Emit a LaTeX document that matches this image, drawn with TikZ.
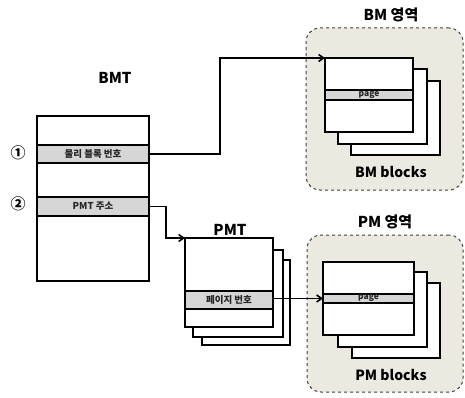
\documentclass[tikz,border=0pt]{standalone}
\usepackage{fontspec}
\setmainfont{Noto Sans CJK KR}
\usetikzlibrary{arrows.meta}
\definecolor{rowgray}{RGB}{214,214,214}
\definecolor{regionfill}{RGB}{236,234,224}
\begin{document}
\begin{tikzpicture}[x=1pt,y=-1pt,
  blk/.style={draw=black, line width=2pt, fill=white, inner sep=0pt, outer sep=0pt, anchor=north west},
  rowbox/.style={draw=black, line width=1.6pt, fill=rowgray, inner sep=0pt, outer sep=0pt, anchor=north west, font=\bfseries\fontsize{9.5}{10}\selectfont, text=black!85},
  region/.style={draw=black!75, dashed, line width=1pt, fill=regionfill, rounded corners=14pt, inner sep=0pt, outer sep=0pt, anchor=north west},
  title/.style={font=\bfseries\fontsize{15}{16}\selectfont, inner sep=0pt},
  sub/.style={font=\bfseries\fontsize{14}{15}\selectfont, inner sep=0pt},
  num/.style={font=\bfseries\fontsize{15}{16}\selectfont, inner sep=0pt},
  arr/.style={draw=black, line width=1.6pt, -{Straight Barb[length=5pt,width=7pt]}}
]
\useasboundingbox (0,0) rectangle (465,398);

% regions
\node[region, minimum width=157pt, minimum height=162pt] (bmreg) at (306,28) {};
\node[region, minimum width=156pt, minimum height=157pt] (pmreg) at (307,235) {};
\node[title] (bmtitle) at (391,15) {BM 영역};
\node[title] (pmtitle) at (385,222) {PM 영역};
\node[sub] (bmblocks) at (391,172) {BM blocks};
\node[sub] (pmblocks) at (391,375) {PM blocks};

% BM blocks
\node[blk, minimum width=89pt, minimum height=74pt] (bmb3) at (351,81) {};
\node[blk, minimum width=89pt, minimum height=75pt] (bmb2) at (338,69) {};
\node[blk, minimum width=88pt, minimum height=74pt] (bmf) at (325,58) {};
\node[rowbox, minimum width=88pt, minimum height=10pt, font=\bfseries\fontsize{8.5}{9}\selectfont] (bmpage) at (325,90) {page};

% PM blocks
\node[blk, minimum width=88pt, minimum height=75pt] (pmb3) at (352,283) {};
\node[blk, minimum width=89pt, minimum height=75pt] (pmb2) at (338,272) {};
\node[blk, minimum width=91pt, minimum height=73pt] (pmf) at (323,262) {};
\node[rowbox, minimum width=91pt, minimum height=9pt, font=\bfseries\fontsize{8.5}{9}\selectfont] (pmpage) at (323,294) {page};

% BMT
\node[title] (bmttitle) at (115,78) {BMT};
\node[blk, minimum width=112pt, minimum height=165pt] (bmt) at (37,116) {};
\node[rowbox, minimum width=112pt, minimum height=18pt] (row1) at (37,145) {물리 블록 번호};
\node[rowbox, minimum width=112pt, minimum height=19pt] (row2) at (37,197) {PMT 주소};
\node[num] (n1) at (18,153) {①};
\node[num] (n2) at (18,204) {②};

% PMT
\node[title] (pmttitle) at (230,230) {PMT};
\node[blk, minimum width=88pt, minimum height=85pt] (pmt3) at (202,260) {};
\node[blk, minimum width=90pt, minimum height=87pt] (pmt2) at (193,250) {};
\node[blk, minimum width=88pt, minimum height=89pt] (pmtf) at (185,238) {};
\node[rowbox, minimum width=88pt, minimum height=18pt] (pmtrow) at (185,291) {페이지 번호};

% connectors
\coordinate (k1) at (220,0);
\coordinate (k2) at (166,0);
\draw[arr] (row1.east) -| (k1 |- bmf.north west) -- (bmf.north west);
\draw[arr] (row2.east) -| (k2 |- pmtf.north west) -- (pmtf.north west);
\draw[arr] (pmtrow.east |- pmpage.west) -- (pmpage.west);
\end{tikzpicture}
\end{document}
